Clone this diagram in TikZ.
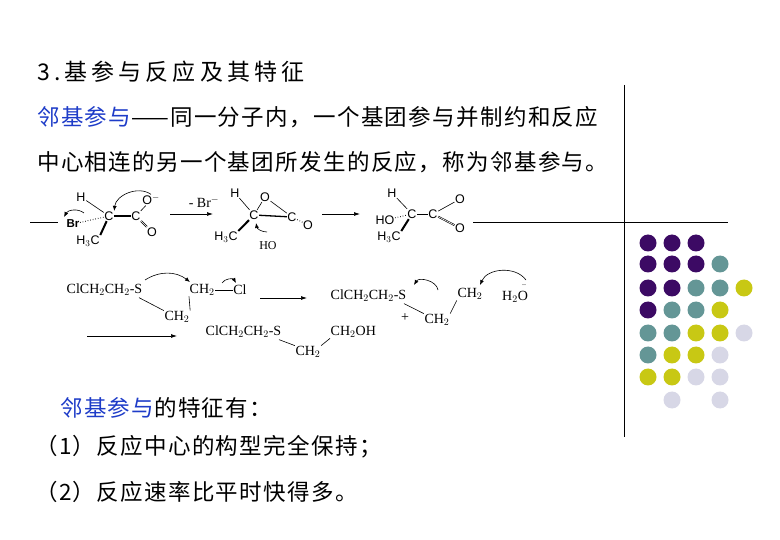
\documentclass[tikz,border=0pt]{standalone}
\usepackage{fontspec}
\setmainfont{Liberation Serif}
\newfontfamily\cjk[LetterSpace=6]{Noto Sans CJK SC}
\newfontfamily\cjkt[LetterSpace=18]{Noto Sans CJK SC}
\newfontfamily\hel{Liberation Sans}
\usetikzlibrary{arrows.meta}
\definecolor{pp}{RGB}{60,10,100}
\definecolor{tl}{RGB}{100,150,150}
\definecolor{yl}{RGB}{200,200,20}
\definecolor{lv}{RGB}{215,215,230}
\definecolor{bl}{RGB}{30,60,200}
\begin{document}
\begin{tikzpicture}[x=1pt,y=-1pt,
  cn/.style={font=\cjk\fontsize{22.5}{24}\selectfont,anchor=west,inner sep=0},
  ch/.style={font=\fontsize{14}{15}\selectfont,inner sep=0.5},
  hv/.style={font=\hel\fontsize{12.5}{13}\selectfont,inner sep=0.5},
  rx/.style={-{Latex[length=6pt,width=4pt]},line width=0.7pt},
  cv/.style={-{Latex[length=5pt,width=4pt]},line width=0.6pt},
  bd/.style={line width=0.6pt},
  dot/.style={circle,minimum size=17pt,inner sep=0}]
\useasboundingbox (0,0) rectangle (780,540);
% frame lines
\draw[line width=0.8pt] (624,85) coordinate (v1) -- (624,437) coordinate (v2);
\draw[line width=0.7pt] (30,222) coordinate (l1) -- (58,222) coordinate (l2);
\draw[line width=0.7pt] (473,222) coordinate (r1) -- (728,222) coordinate (r2);
% texts
\node[cn,font=\cjkt\fontsize{23}{25}\selectfont] (t0) at (37,72) {3.\,基参与反应及其特征};
\node[cn] (t1) at (37,117) {\textcolor{bl}{邻基参与}——同一分子内，一个基团参与并制约和反应};
\node[cn] (t2) at (37,162) {中心相连的另一个基团所发生的反应，称为邻基参与。};
\node[cn] (t3) at (60,408) {\textcolor{bl}{邻基参与}的特征有：};
\node[cn] (t4) at (35,447) {（1）反应中心的构型完全保持；};
\node[cn] (t5) at (35,492) {（2）反应速率比平时快得多。};
% dots
\foreach \r/\row in {243/{pp,pp,pp,,},264/{pp,pp,pp,tl,},288/{pp,pp,tl,tl,yl},310/{pp,tl,tl,yl,},333/{tl,tl,yl,yl,lv},355/{tl,yl,yl,lv,},377/{yl,yl,lv,lv,},400/{,lv,,lv,}}{
  \foreach \c [count=\i] in \row {
    \ifx\c\empty\else
      \node[dot,fill=\c] (d\i-\r) at ({624+24*\i},\r) {};
    \fi
  }
}
% molecule 1
\node[hv] (h1) at (81,197) {H};
\node[hv,font=\hel\bfseries\fontsize{11.5}{12}\selectfont] (br) at (73,224) {Br};
\node[hv] (c1) at (109,216) {C};
\node[hv] (c2) at (136,216) {C};
\node[hv] (o1) at (151,200) {O$^{-}$};
\node[hv] (o2) at (152,232) {O};
\node[hv] (m1) at (88,241) {H$_3$C};
\draw[bd] (h1) -- (c1);
\draw[bd,dotted,line width=1pt] (br) -- (c1);
\draw[line width=1.3pt] (c1) -- (c2);
\draw[bd] (c2) -- (o1);
\draw[bd,double] (c2) -- (o2);
\draw[line width=2pt] (c1) -- (m1.north east);
\draw[cv] (o1.north) to[bend right=60] (c1.north east);
\draw[cv] (84,213) to[bend right=50] (64,217);
\node[ch] (lb) at (204,202) {- Br$^{-}$};
\draw[rx] (170,214) coordinate (a1s) -- (213,214) coordinate (a1e);
% molecule 2
\node[hv] (h2) at (235,193) {H};
\node[hv] (o3) at (265,197) {O};
\node[hv] (c3) at (254,215) {C};
\node[hv] (c4) at (292,217) {C};
\node[hv] (o4) at (308,225) {O};
\node[hv] (m2) at (226,237) {H$_3$C};
\node[ch,font=\fontsize{12}{12}\selectfont] (ho) at (268,246) {HO};
\draw[bd] (h2) -- (c3);
\draw[bd] (c3) -- (o3); \draw[bd] (o3) -- (c4);
\draw[line width=1.3pt] (c3) -- (c4);
\draw[bd,dotted,line width=1pt] (c4) -- (o4);
\draw[line width=2pt] (c3) -- (m2.north east);
\draw[cv] (267,232) to[bend left=40] (256,223);
\draw[rx] (322,214) coordinate (a2s) -- (360,214) coordinate (a2e);
% molecule 3
\node[hv] (h3) at (392,193) {H};
\node[hv] (ho3) at (385,220) {HO};
\node[hv] (c5) at (412,214) {C};
\node[hv] (c6) at (433,214) {C};
\node[hv] (o5) at (460,199) {O};
\node[hv] (o6) at (460,228) {O};
\node[hv] (m3) at (389,237) {H$_3$C};
\draw[bd] (h3) -- (c5);
\draw[bd,dotted,line width=1pt] (ho3) -- (c5);
\draw[bd] (c5) -- (c6);
\draw[bd] (c6) -- (o5);
\draw[bd,double] (c6) -- (o6);
\draw[line width=2pt] (c5) -- (m3.north east);
% row 2
\node[ch,anchor=west] (s1) at (66,290) {ClCH$_2$CH$_2$-S};
\node[ch,anchor=west] (cc1) at (189,290) {CH$_2$};
\node[ch] (cl) at (240,290) {Cl};
\node[ch] (cb1) at (177,317) {CH$_2$};
\draw[bd] (cc1) -- (cl);
\draw[bd] (s1.south east) ++(-4,1) -- (cb1.north west);
\draw[bd] (cb1.north east) -- (cc1.south west);
\draw[cv] (145,280) to[bend left=35] (190,282);
\draw[cv] (222,283) to[bend left=60] (236,283);
\draw[rx] (260,298) coordinate (a3s) -- (307,298) coordinate (a3e);
\node[ch,anchor=west] (s2) at (330,296) {ClCH$_2$CH$_2$-S};
\node[ch] (pl) at (405,318) {+};
\node[ch] (cc2) at (470,294) {CH$_2$};
\node[ch] (cb2) at (437,320) {CH$_2$};
\node[ch] (w) at (515,297) {H$_2$O};
\node[ch,font=\fontsize{8}{8}\selectfont] (wd) at (524,285) {..};
\draw[bd] (s2.south east) ++(-3,1) -- (cb2.north west);
\draw[bd] (cb2.north east) -- (cc2.south west);
\draw[cv] (438,290) to[bend right=70] (414,285);
\draw[cv] (526,280) to[bend right=60] (480,285);
% row 3
\draw[rx] (87,336) coordinate (a4s) -- (177,336) coordinate (a4e);
\node[ch,anchor=west] (s3) at (205,332) {ClCH$_2$CH$_2$-S};
\node[ch,anchor=west] (cc3) at (330,332) {CH$_2$OH};
\node[ch] (cb3) at (308,352) {CH$_2$};
\draw[bd] (s3.south east) ++(-3,1) -- (cb3.north west);
\draw[bd] (cb3.north east) -- (cc3.south west);
\end{tikzpicture}
\end{document}
